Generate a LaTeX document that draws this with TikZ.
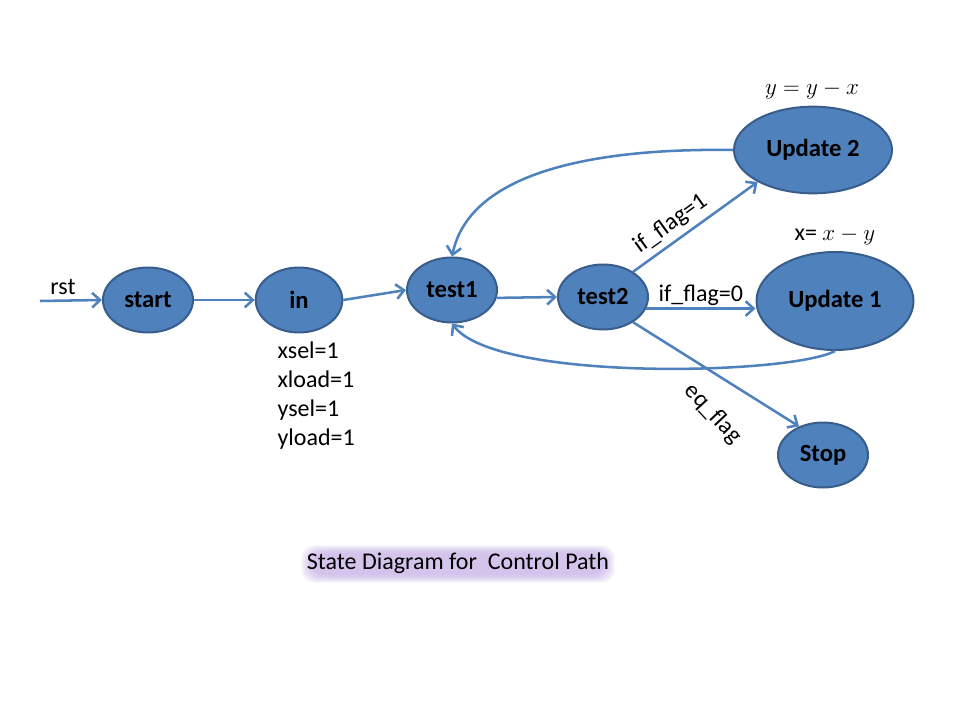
\documentclass[tikz,border=0pt]{standalone}
\usepackage{fontspec}
\setmainfont{Carlito}
\usepackage{xcolor}
\usepackage{tikz}
\usetikzlibrary{arrows.meta,positioning,shapes.geometric}
\definecolor{statefill}{RGB}{79,129,189}
\definecolor{stateline}{RGB}{56,93,138}
\definecolor{glowpurple}{RGB}{178,150,222}
\tikzset{
  statearrow/.style={-{Straight Barb[length=6pt,width=11pt,line width=1.9pt]},
    line width=1.9pt, draw=statefill},
  statenode/.style={ellipse, draw=stateline, fill=statefill, line width=1.5pt,
    inner sep=0pt, minimum width=67.5pt, minimum height=48.75pt,
    font=\fontsize{18.5}{21.6}\selectfont\bfseries},
  statelabel/.style={inner sep=1pt, font=\fontsize{18}{21.75}\selectfont}
}
\begin{document}
\begin{tikzpicture}[x=0.75pt, y=-0.75pt]
  \useasboundingbox (0,0) rectangle (960,720);

  % states
  \node[statenode] (start) at (148,300) {start};
  \node[statenode, minimum width=65pt] (in) at (299,300) {in};
  \node[statenode] (test1) at (452,290) {test1};
  \node[statenode] (test2) at (603,297) {test2};
  \node[statenode, minimum width=118.5pt, minimum height=65pt]
    (upd2) at (813,150) {Update 2};
  \node[statenode, minimum width=117.75pt, minimum height=73.5pt]
    (upd1) at (835,301) {Update 1};
  \node[statenode] (stop) at (823,455) {Stop};

  % labels
  \coordinate (rstin) at (40,301);
  \node[statelabel] (rst) at (63,287) {rst};
  \node[statelabel, anchor=north west, align=left] (loads) at (276,340)
    {xsel=1\\xload=1\\ysel=1\\yload=1};
  \node[statelabel, font=\fontsize{19}{22}\selectfont] (eq2) at (812,90)
    {$y=y-x$};
  \node[statelabel] (eq1) at (835,236) {x= $x-y$};

  % transitions
  \draw[statearrow] (rstin) -- (start.west);
  \draw[statearrow] (start.east) -- (in.west);
  \draw[statearrow] (in.east) -- (test1.west);
  \draw[statearrow] (test1.-10) -- (test2.west);
  \draw[statearrow] (test2.40) -- node[statelabel, sloped, above=3pt, pos=0.38]
    {if\_flag=1} (upd2.210);
  \draw[statearrow] (test2.-15) -- node[statelabel, above, pos=0.5]
    {if\_flag=0} (test2.-15 -| upd1.west);
  \draw[statearrow] (test2.-40) -- (stop.130);
  \node[statelabel, rotate=-47] (eqflag) at (713,414) {eq\_flag};
  \draw[statearrow] (upd2.west) .. controls (600,148) and (470,170)
    .. (test1.north);
  \draw[statearrow] (upd1.south) .. controls (790,375) and (495,382)
    .. (test1.south);

  % caption
  \foreach \g in {0,...,5}
    \node[fill=glowpurple, fill opacity=0.13, rounded corners=10pt,
      minimum width=220pt+\g*3pt, minimum height=17pt+\g*2.2pt]
      at (458,564) {};
  \node[statelabel] (caption) at (458,563) {State Diagram for\ \ Control Path};
\end{tikzpicture}
\end{document}
